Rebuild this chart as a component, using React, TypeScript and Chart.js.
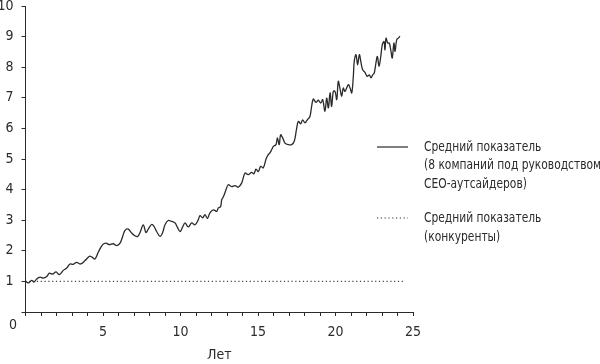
import React, { useEffect, useRef } from 'react';
import { Chart, registerables } from 'chart.js';

Chart.register(...registerables);

// ---- data ----
const years = [
  0, 0.18, 0.4, 0.55, 0.72, 0.94, 1.15, 1.37, 1.54, 1.75, 1.97, 2.18, 2.44, 2.66, 2.87, 3.08, 3.3, 3.56, 3.84,
  4.12, 4.27, 4.48, 4.7, 4.98, 5.19, 5.41, 5.66, 5.88, 6.1, 6.27, 6.42, 6.63, 6.85, 7.06, 7.24, 7.39, 7.6, 7.77,
  7.92, 8.14, 8.29, 8.46, 8.68, 8.85, 9.0, 9.21, 9.43, 9.65, 9.79, 9.97, 10.14, 10.29, 10.5, 10.72, 10.94, 11.15,
  11.26, 11.43, 11.58, 11.74, 11.9, 12.12, 12.34, 12.44, 12.59, 12.66, 12.76, 12.94, 13.08, 13.3, 13.52, 13.73,
  13.95, 14.16, 14.37, 14.59, 14.74, 14.87, 15.02, 15.17, 15.34, 15.52, 15.66, 15.77, 15.88, 15.99, 16.16, 16.25,
  16.37, 16.46, 16.59, 16.74, 16.95, 17.17, 17.34, 17.48, 17.6, 17.75, 17.88, 18.03, 18.18, 18.35, 18.46, 18.57,
  18.74, 18.89, 19.05, 19.17, 19.32, 19.43, 19.54, 19.65, 19.75, 19.86, 19.97, 20.08, 20.18, 20.29, 20.4, 20.5,
  20.61, 20.83, 20.94, 21.05, 21.15, 21.21, 21.32, 21.43, 21.54, 21.65, 21.75, 21.9, 22.05, 22.18, 22.29, 22.4,
  22.5, 22.61, 22.7, 22.81, 22.92, 23.02, 23.13, 23.19, 23.26, 23.37, 23.47, 23.58, 23.66, 23.77, 23.84, 23.95,
  24.05, 24.16,
];
const ceoValues = [
  1.0, 0.95, 1.03, 0.98, 1.08, 1.14, 1.11, 1.16, 1.27, 1.24, 1.31, 1.22, 1.36, 1.44, 1.57, 1.56, 1.62, 1.57, 1.68,
  1.82, 1.8, 1.73, 1.96, 2.2, 2.25, 2.2, 2.23, 2.17, 2.25, 2.47, 2.67, 2.71, 2.58, 2.49, 2.47, 2.6, 2.85, 2.6,
  2.71, 2.86, 2.8, 2.63, 2.47, 2.6, 2.85, 2.99, 2.96, 2.91, 2.78, 2.63, 2.78, 2.91, 2.78, 2.91, 2.85, 3.02,
  3.15, 3.08, 3.18, 3.06, 3.24, 3.34, 3.29, 3.4, 3.45, 3.67, 3.76, 4.0, 4.16, 4.1, 4.13, 4.08,
  4.22, 4.54, 4.49, 4.56, 4.52, 4.67, 4.59, 4.76, 4.71, 5.0, 5.14, 5.2, 5.3, 5.41, 5.47, 5.69,
  5.47, 5.79, 5.69, 5.52, 5.47, 5.47, 5.58, 5.96, 6.23, 6.15, 6.28, 6.18, 6.28, 6.39, 6.72, 6.96,
  6.85, 6.92, 6.83, 6.94, 6.56, 6.99, 6.67, 7.16, 6.72, 7.21, 7.21, 6.94, 7.54, 7.3, 7.05, 7.32,
  7.21, 7.43, 7.32, 7.16, 7.7, 8.2, 8.41, 8.08, 8.41, 8.14, 7.92, 7.83, 7.7, 7.75, 7.65, 7.75,
  7.81, 8.14, 8.35, 8.03, 8.35, 8.74, 8.84, 8.57, 8.95, 8.79, 8.79, 8.52, 8.3, 8.79, 8.52, 8.9,
  8.95, 9.01,
];
const peerYears = [0, 24.4];
const peerValues = [1, 1];
const xLabelYears = [5, 10, 15, 20, 25];
const xTitle = 'Лет';
const originLabel = '0';
const legendSolid = ['Средний показатель', '(8 компаний под руководством', 'СЕО-аутсайдеров)'];
const legendDotted = ['Средний показатель', '(конкуренты)'];

const FONT = '"Liberation Sans Narrow", "Arial Narrow", "DejaVu Sans Condensed", sans-serif';
const INK = '#2b2b2b';
const SQUEEZE = 0.85;

const extrasPlugin = {
  id: 'extras',
  afterDraw(chart: any) {
    const ctx = chart.ctx as CanvasRenderingContext2D;
    const xs = chart.scales.x;
    const ys = chart.scales.y;
    ctx.save();
    ctx.fillStyle = INK;
    ctx.font = `14px ${FONT}`;
    ctx.textBaseline = 'middle';
    // origin label
    ctx.textAlign = 'center';
    ctx.fillText(originLabel, ys.right - 12.5, xs.top + 13);
    // legend
    ctx.textAlign = 'left';
    const lineX0 = 377;
    const lineX1 = 408;
    const textX = 424;
    const solidRows = [147, 165.5, 184];
    const dotRows = [218, 237];
    ctx.strokeStyle = INK;
    ctx.lineWidth = 1.2;
    ctx.beginPath();
    ctx.moveTo(lineX0, solidRows[0]);
    ctx.lineTo(lineX1, solidRows[0]);
    ctx.stroke();
    ctx.setLineDash([1.2, 2.6]);
    ctx.beginPath();
    ctx.moveTo(lineX0, dotRows[0]);
    ctx.lineTo(lineX1, dotRows[0]);
    ctx.stroke();
    ctx.setLineDash([]);
    const put = (t: string, y: number) => {
      ctx.save();
      ctx.translate(textX, y);
      ctx.scale(SQUEEZE, 1);
      ctx.fillText(t, 0, 0);
      ctx.restore();
    };
    legendSolid.forEach((t, i) => put(t, solidRows[i]));
    legendDotted.forEach((t, i) => put(t, dotRows[i]));
    ctx.restore();
  },
};

export default function App() {
  const ref = useRef<HTMLCanvasElement | null>(null);

  useEffect(() => {
    if (!ref.current) return;
    const chart = new Chart(ref.current, {
      type: 'line',
      data: {
        datasets: [
          {
            label: legendSolid.join(' '),
            data: years.map((x, i) => ({ x, y: ceoValues[i] })),
            borderColor: INK,
            borderWidth: 1.3,
            pointRadius: 0,
            tension: 0.35,
            fill: false,
          },
          {
            label: legendDotted.join(' '),
            data: peerYears.map((x, i) => ({ x, y: peerValues[i] })),
            borderColor: '#444',
            borderWidth: 1.2,
            borderDash: [1.2, 2.6],
            pointRadius: 0,
            fill: false,
          },
        ],
      },
      options: {
        responsive: false,
        animation: false,
        layout: { padding: { top: 6, right: 187, bottom: 0, left: 0 } },
        plugins: { legend: { display: false }, tooltip: { enabled: false } },
        scales: {
          x: {
            type: 'linear',
            min: 0,
            max: 25,
            afterFit: (s: any) => {
              s.height = 52;
              s.paddingLeft = 0;
              s.paddingRight = 0;
            },
            ticks: {
              stepSize: 1,
              autoSkip: false,
              maxRotation: 0,
              padding: 8,
              color: INK,
              font: { family: FONT, size: 14 },
              callback: (v: any) => (xLabelYears.includes(Number(v)) ? String(v) : ''),
            },
            grid: { drawOnChartArea: false, drawTicks: true, tickLength: 4, color: INK },
            border: { display: true, color: INK, width: 1 },
            title: {
              display: true,
              text: xTitle,
              color: INK,
              font: { family: FONT, size: 14 },
              padding: { top: 0, bottom: 0 },
            },
          },
          y: {
            min: 0,
            max: 10,
            afterFit: (s: any) => {
              s.width = 25.5;
              s.paddingTop = 0;
              s.paddingBottom = 0;
            },
            ticks: {
              stepSize: 1,
              padding: 8,
              color: INK,
              font: { family: FONT, size: 14 },
              callback: (v: any) => (Number(v) === 0 ? '' : String(v)),
            },
            grid: { drawOnChartArea: false, drawTicks: true, tickLength: 4, color: INK },
            border: { display: true, color: INK, width: 1 },
          },
        },
      },
      plugins: [extrasPlugin],
    });
    return () => chart.destroy();
  }, []);

  return (
    <div style={{ position: 'fixed', left: 0, top: 0, width: 600, height: 364, background: '#fff' }}>
      <canvas ref={ref} width={600} height={364} style={{ width: 600, height: 364, display: 'block' }} />
    </div>
  );
}
